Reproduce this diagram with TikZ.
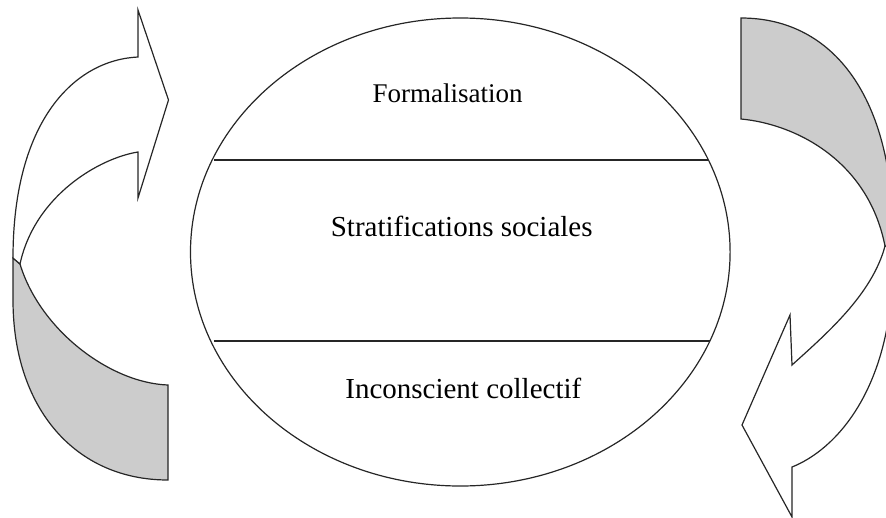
\documentclass[tikz,border=0pt]{standalone}
\usepackage{fontspec}
\setmainfont{Liberation Serif}
\usetikzlibrary{shapes.geometric}
\begin{document}
\begin{tikzpicture}[x=1pt,y=-1pt,
  outl/.style={draw=black!85, line width=1.2pt, line join=miter},
  backface/.style={outl, fill=black!20},
  frontface/.style={outl, fill=white},
  layertext/.style={font=\fontsize{29}{34}\selectfont, anchor=base, inner sep=0pt},
]
\useasboundingbox (0,0) rectangle (886,517);
\clip (0,0) rectangle (886,517);

% central ellipse
\node[ellipse, outl, minimum width=539.6pt, minimum height=468pt, inner sep=0pt] (ell) at (460.3,252) {};
\coordinate (t1) at (214,160);
\coordinate (t2) at (707.5,160);
\coordinate (b1) at (214,341);
\coordinate (b2) at (709.5,341);
\draw[outl] (t1) -- (t2);
\draw[outl] (b1) -- (b2);

\node[layertext, font=\fontsize{27}{32}\selectfont] (formal) at (447.5,102.5) {Formalisation};
\node[layertext] (strat) at (461.7,236.5) {Stratifications sociales};
\node[layertext] (incons) at (463.3,398) {Inconscient collectif};

% left curved arrow
\path[backface] (13,258) -- (13,300) .. controls (13,408) and (75,480) .. (168,480)
  -- (168,385) .. controls (110,383) and (40,330) .. (20,264) -- cycle;
\path[frontface] (13,258) .. controls (13,120) and (75,60) .. (138,57)
  -- (138,10) -- (168.5,100) -- (138,198) -- (138,152)
  .. controls (100,158) and (35,195) .. (20,264) -- cycle;

% right curved arrow
\path[backface] (741,18) .. controls (835,18) and (893,100) .. (893,235)
  -- (893,250) -- (885,246) .. controls (868,160) and (795,124) .. (741,119) -- cycle;
\path[frontface] (792,467) .. controls (835,450) and (893,390) .. (893,260)
  -- (893,248) -- (885,246) .. controls (872,295) and (825,335) .. (792,365)
  -- (790,315) -- (742,425) -- (792,517) -- cycle;
\end{tikzpicture}
\end{document}
